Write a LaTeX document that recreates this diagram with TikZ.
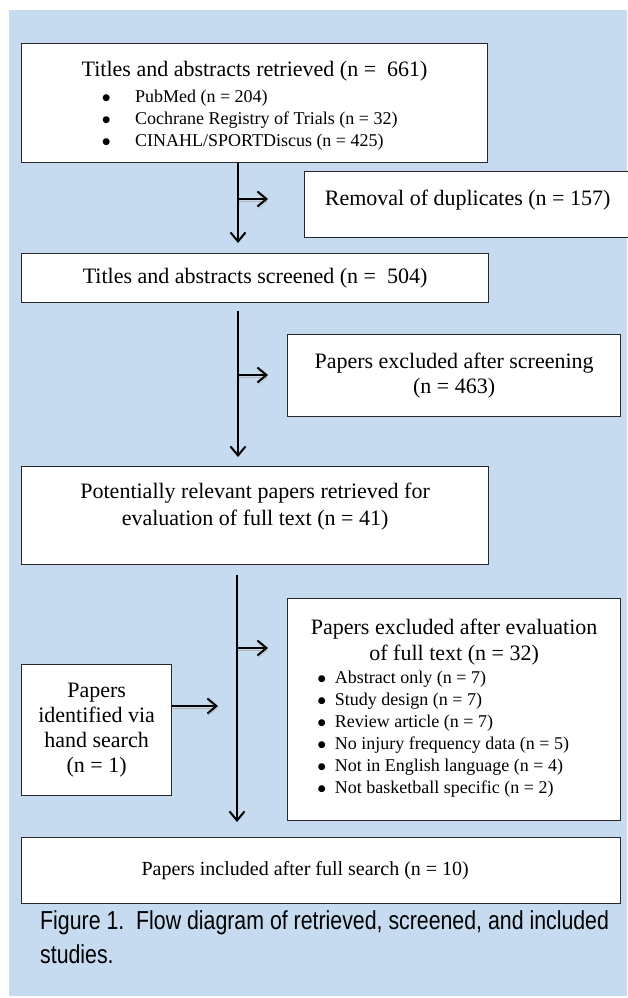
\documentclass[tikz,border=0pt]{standalone}
\usepackage{fontspec}
\setmainfont{Liberation Serif}
\newfontfamily\capfont[FakeStretch=0.82]{Liberation Sans}
\newfontfamily\dotfont{DejaVu Sans}
\usetikzlibrary{arrows.meta}
\definecolor{panelblue}{RGB}{198,219,239}
\definecolor{boxline}{RGB}{40,40,40}
\newcommand{\bul}{\makebox[9.45pt][c]{\raisebox{2pt}{\dotfont\fontsize{9}{9}\selectfont ●}}}

\begin{document}
\begin{tikzpicture}[x=1pt,y=-1pt,
  box/.style={draw=boxline, line width=1.2pt, fill=white, anchor=north west,
    align=center, inner sep=0pt, font=\fontsize{22}{26}\selectfont},
  flow/.style={line width=2pt, -{Straight Barb[length=9pt,width=15pt]}},
  side/.style={flow, preaction={draw=gray!60, transform canvas={shift={(0.5pt,-2.5pt)}}}},
  capline/.style={anchor=base west, inner sep=0pt, font=\capfont\fontsize{26}{30}\selectfont}]
\useasboundingbox (0,0) rectangle (627,998);
\fill[panelblue] (9,10) rectangle (627,996);

% boxes of the flow
\node[box, minimum width=466pt, minimum height=119pt] (ret) at (21,43) {\rule{0pt}{24pt}Titles and abstracts retrieved (n = \ 661)\\[0pt]
  {\fontsize{18}{22}\selectfont\begin{tabular}[t]{@{}l@{\hspace{24pt}}l@{}}
  \bul & PubMed (n = 204)\\
  \bul & Cochrane Registry of Trials (n = 32)\\
  \bul & CINAHL/SPORTDiscus (n = 425)
  \end{tabular}\hspace*{10pt}}};
\node[box, minimum width=326pt, minimum height=66pt, text depth=13pt] (dup) at (304,171) {Removal of duplicates (n = 157)};
\node[box, minimum width=467pt, minimum height=49pt] (scr) at (21,253) {Titles and abstracts screened (n = \ 504)};
\node[box, minimum width=333pt, minimum height=82pt, font=\fontsize{22}{25}\selectfont] (exs) at (287,334) {Papers excluded after screening\\ (n = 463)};
\node[box, minimum width=467pt, minimum height=98pt, text depth=23pt, font=\fontsize{22}{27}\selectfont] (pot) at (21,466) {Potentially relevant papers retrieved for\\ evaluation of full text (n = 41)};
\node[box, minimum width=333pt, minimum height=222pt] (exe) at (287,598) {Papers excluded after evaluation\\ of full text (n = 32)\\[-3pt]
  {\fontsize{18}{22}\selectfont\begin{tabular}[t]{@{}l@{\hspace{8.3pt}}l@{}}
  \bul & Abstract only (n = 7)\\
  \bul & Study design (n = 7)\\
  \bul & Review article (n = 7)\\
  \bul & No injury frequency data (n = 5)\\
  \bul & Not in English language (n = 4)\\
  \bul & Not basketball specific (n = 2)
  \end{tabular}\hspace*{22pt}}};
\node[box, minimum width=150pt, minimum height=131pt, font=\fontsize{22}{25}\selectfont] (hand) at (21,664) {Papers\\ identified via\\ hand search\\ (n = 1)};
\node[box, minimum width=599pt, minimum height=66pt, font=\fontsize{20}{24}\selectfont] (inc) at (21,837) {\makebox[599pt][l]{\hspace*{120pt}Papers included after full search (n = 10)}};

% arrows
\coordinate (v1) at (238,0);
\coordinate (v3) at (237,0);
\coordinate (s1) at (238,199);
\coordinate (s2) at (238,375);
\coordinate (s3) at (237,648);
\coordinate (s4) at (218,706);
\draw[flow, shorten >=10pt] (ret.south -| v1) -- (scr.north -| v1);
\draw[side, shorten >=36pt] (s1) -- (s1 -| dup.west);
\draw[flow, shorten <=8pt, shorten >=9pt] (scr.south -| v1) -- (pot.north -| v1);
\draw[side, shorten >=19pt] (s2) -- (s2 -| exs.west);
\draw[flow, shorten <=10pt, shorten >=15pt] (pot.south -| v3) -- (inc.north -| v3);
\draw[side, shorten >=19pt] (s3) -- (s3 -| exe.west);
\draw[side] (s4 -| hand.east) -- (s4);

% caption
\node[capline] (cap1) at (40,929) {Figure 1.\ \ Flow diagram of retrieved, screened, and included};
\node[capline] (cap2) at (40,963) {studies.};
\end{tikzpicture}
\end{document}
